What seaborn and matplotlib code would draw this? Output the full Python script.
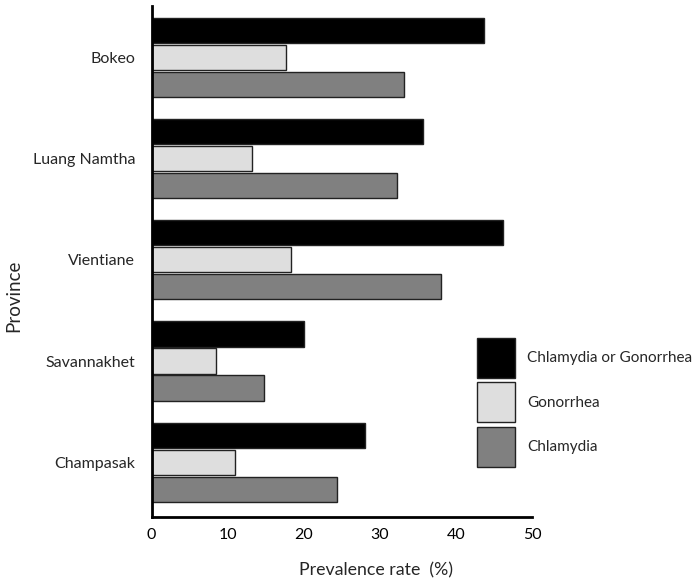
import pandas as pd
import matplotlib
matplotlib.use("Agg")
import matplotlib.pyplot as plt
import seaborn as sns

# values (prevalence %, by province)
provinces = ["Bokeo", "Luang Namtha", "Vientiane", "Savannakhet", "Champasak"]
either = [43.7, 35.6, 46.1, 20.0, 28.0]
gonorrhea = [17.7, 13.2, 18.3, 8.5, 11.0]
chlamydia = [33.1, 32.2, 38.0, 14.8, 24.4]
series_names = ["Chlamydia or Gonorrhea", "Gonorrhea", "Chlamydia"]
colors = ["#000000", "#dedede", "#808080"]

# long format for seaborn
rows = []
for name, vals in zip(series_names, [either, gonorrhea, chlamydia]):
    for p, v in zip(provinces, vals):
        rows.append({"Province": p, "Infection": name, "Rate": v})
data = pd.DataFrame(rows)

sns.set_style("white")
plt.rcParams["font.family"] = ["Lato", "DejaVu Sans"]

fig = plt.figure(figsize=(6.98, 5.8), dpi=100)
ax = fig.add_axes([0.2173, 0.109, 0.5453, 0.8807])

sns.barplot(data=data, x="Rate", y="Province", hue="Infection",
            order=provinces, hue_order=series_names, palette=colors,
            orient="h", width=0.8, gap=0.07, edgecolor="#222222",
            linewidth=1.0, saturation=1, ax=ax)

ax.set_xlim(0, 50)
ax.set_ylim(4.54, -0.51)
ax.set_xticks([0, 10, 20, 30, 40, 50])

sns.despine(ax=ax)
for s in ["left", "bottom"]:
    ax.spines[s].set_linewidth(2)
    ax.spines[s].set_color("black")

ax.tick_params(axis="x", direction="in", length=10, width=1.8, pad=8,
               labelsize=11.5, colors="black")
ax.tick_params(axis="y", length=0, pad=12, labelsize=11.5)

ax.set_xlabel("Prevalence rate  (%)", fontsize=12.8)
ax.set_ylabel("Province", fontsize=13.5)
ax.xaxis.set_label_coords(0.589, -0.104)
ax.xaxis.label.set_va("center")
ax.yaxis.set_label_coords(-0.363, 0.432)
ax.yaxis.label.set_va("center")

leg = ax.legend(loc="upper left", bbox_to_anchor=(0.6834, 0.4178),
                bbox_transform=fig.transFigure, frameon=False,
                fontsize=11, handlelength=2.49, handleheight=3.65,
                labelspacing=0.31, handletextpad=0.79, borderpad=0,
                borderaxespad=0)
for h in leg.legend_handles:
    h.set_edgecolor("#222222")
    h.set_linewidth(1.0)

fig.savefig("out.png", dpi=100)
